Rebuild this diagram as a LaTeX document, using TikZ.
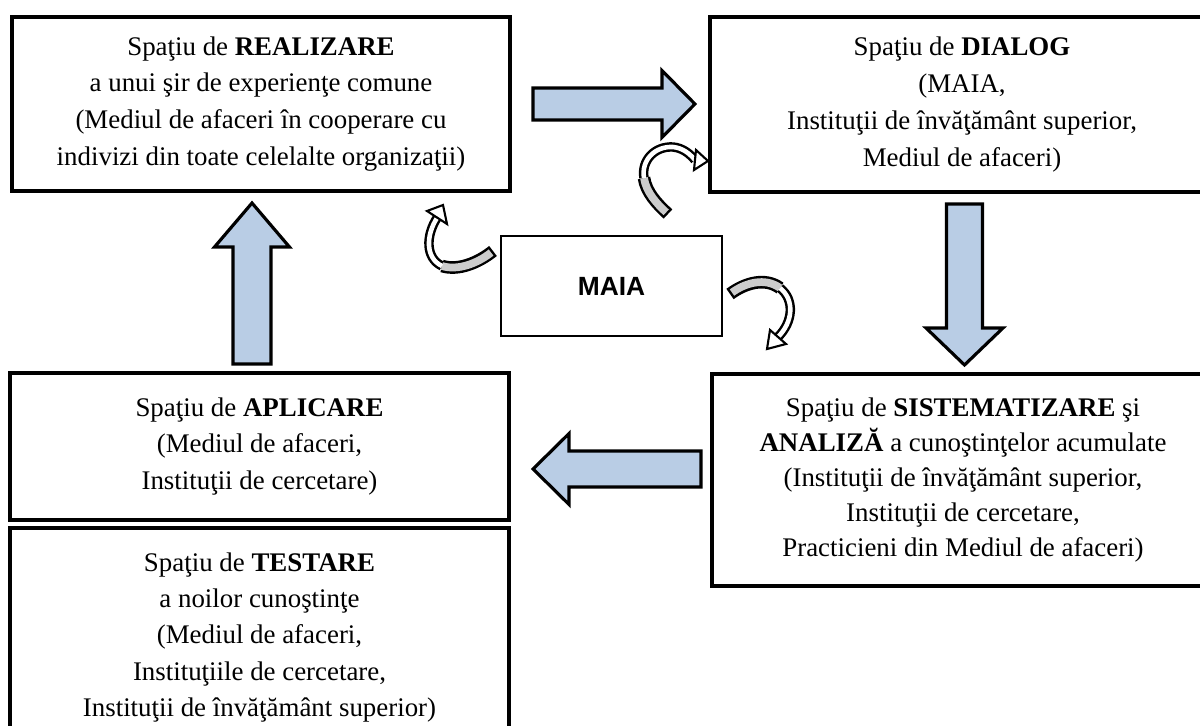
\documentclass[tikz,border=0pt]{standalone}
\usepackage{fontspec}
\setmainfont{Liberation Serif}
\newfontfamily\maiafont{Liberation Sans}
\usepackage{xcolor}
\usepackage{tikz}
\usetikzlibrary{calc}

\definecolor{arrowblue}{RGB}{185,205,229}
\definecolor{bandgray}{RGB}{204,204,204}

\begin{document}
\begin{tikzpicture}[x=0.02cm, y=-0.02cm,
  box/.style={draw, line width=2.2pt, outer sep=0pt, inner sep=0pt, align=center},
  bigarrow/.style={draw, line width=1.8pt, fill=arrowblue, line join=miter},
  bandout/.style={draw=black, line width=7.2pt},
  bandoutthin/.style={draw=black, line width=5.4pt},
  bandback/.style={draw=bandgray, line width=4.4pt},
  bandfront/.style={draw=white, line width=2.6pt},
  bandhead/.style={draw=black, fill=white, line width=1.2pt, line join=miter}]

\useasboundingbox (0,0) rectangle (1200,726);
\clip (0,0) rectangle (1200,726);

% the six boxes
\node[box, minimum width=9.96cm, minimum height=3.48cm, font=\fontsize{15.3}{21}\selectfont] (realizare) at (261,104)
  {Spaţiu de \textbf{REALIZARE}\\ a unui şir de experienţe comune\\ (Mediul de afaceri în cooperare cu\\ indivizi din toate celelalte organizaţii)};
\node[box, minimum width=10.08cm, minimum height=3.5cm, font=\fontsize{15.3}{21}\selectfont] (dialog) at (962,104.5)
  {Spaţiu de \textbf{DIALOG}\\ (MAIA,\\ Instituţii de învăţământ superior,\\ Mediul de afaceri)};
\node[box, line width=1pt, minimum width=4.42cm, minimum height=2cm, font=\maiafont\bfseries\fontsize{15}{18}\selectfont] (maia) at (611.5,286) {MAIA};
\node[box, minimum width=10.04cm, minimum height=4.24cm, font=\fontsize{15.3}{19.8}\selectfont] (sistematizare) at (963,480)
  {Spaţiu de \textbf{SISTEMATIZARE} şi\\ \textbf{ANALIZĂ} a cunoştinţelor acumulate\\ (Instituţii de învăţământ superior,\\ Instituţii de cercetare,\\ Practicieni din Mediul de afaceri)};
\node[box, minimum width=9.98cm, minimum height=2.94cm, font=\fontsize{15.3}{20.7}\selectfont] (aplicare) at (259.5,446.5)
  {Spaţiu de \textbf{APLICARE}\\ (Mediul de afaceri,\\ Instituţii de cercetare)};
\node[box, minimum width=9.98cm, minimum height=4.38cm, font=\fontsize{15.3}{20.7}\selectfont] (testare) at (259.5,637.5)
  {Spaţiu de \textbf{TESTARE}\\ a noilor cunoştinţe\\ (Mediul de afaceri,\\ Instituţiile de cercetare,\\ Instituţii de învăţământ superior)};

% big arrows
\draw[bigarrow] ($(realizare.east)+(23,-16)$) -- ++(129,0) -- ++(0,-17.5) -- ++(33,33.5) -- ++(-33,33.5) -- ++(0,-17.5) -- ++(-129,0) -- cycle;
\draw[bigarrow] ($(dialog.south)+(-15.5,12)$) -- ++(36,0) -- ++(0,124) -- ++(20.5,0) -- ++(-38.5,37) -- ++(-38.5,-37) -- ++(20.5,0) -- cycle;
\draw[bigarrow] ($(sistematizare.west)+(-11,-29)$) -- ++(0,36) -- ++(-132,0) -- ++(0,17.5) -- ++(-36,-35.5) -- ++(36,-35.5) -- ++(0,17.5) -- cycle;
\draw[bigarrow] ($(aplicare.north)+(-26.5,-9)$) -- ++(38,0) -- ++(0,-117) -- ++(18.5,0) -- ++(-37.5,-44) -- ++(-37.5,44) -- ++(18.5,0) -- cycle;

% curved arrows out of MAIA
\draw[bandout] (493,251) .. controls (478,263) and (458,271) .. (442,266);
\draw[bandoutthin] (442,266) .. controls (425,258) and (426,235) .. (437,218);
\draw[bandback, shorten <=1.4pt] (493,251) .. controls (478,263) and (458,271) .. (442,266);
\draw[bandfront] (442,266) .. controls (425,258) and (426,235) .. (437,218);
\draw[bandhead] (443,205) -- (427,211) -- (447,224) -- cycle;

\draw[bandout] (668,214) .. controls (657,204) and (646,192) .. (644,178);
\draw[bandoutthin] (644,178) .. controls (641,160) and (655,146) .. (673,147) .. controls (683,148) and (690,154) .. (695,160);
\draw[bandback, shorten <=1.4pt] (668,214) .. controls (657,204) and (646,192) .. (644,178);
\draw[bandfront] (644,178) .. controls (641,160) and (655,146) .. (673,147) .. controls (683,148) and (690,154) .. (695,160);
\draw[bandhead] (708,161) -- (696,150) -- (694,170) -- cycle;

\draw[bandout] (730,294) .. controls (745,283) and (765,277) .. (780,288);
\draw[bandoutthin] (780,288) .. controls (795,300) and (793,322) .. (778,337);
\draw[bandback, shorten <=1.4pt] (730,294) .. controls (745,283) and (765,277) .. (780,288);
\draw[bandfront] (780,288) .. controls (795,300) and (793,322) .. (778,337);
\draw[bandhead] (767,349) -- (770,330) -- (786,344) -- cycle;

\end{tikzpicture}
\end{document}
